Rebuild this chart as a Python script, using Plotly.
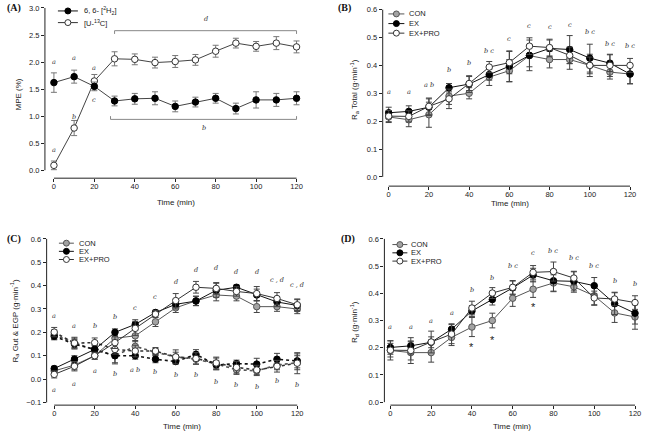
import plotly.graph_objects as go

W, H = 645, 435

# ---------------- data ----------------
time = [0, 10, 20, 30, 40, 50, 60, 70, 80, 90, 100, 110, 120]

# Panel A: MPE (%)
a_h2 = [1.62, 1.73, 1.55, 1.28, 1.32, 1.33, 1.18, 1.26, 1.33, 1.14, 1.30, 1.30, 1.33]
a_h2_se = [0.18, 0.12, 0.08, 0.09, 0.10, 0.12, 0.10, 0.09, 0.09, 0.10, 0.15, 0.12, 0.12]
a_c13 = [0.09, 0.78, 1.65, 2.06, 2.05, 1.99, 2.01, 2.04, 2.20, 2.35, 2.29, 2.35, 2.28]
a_c13_se = [0.08, 0.14, 0.12, 0.13, 0.10, 0.10, 0.11, 0.10, 0.11, 0.09, 0.09, 0.12, 0.11]
a_let_x = [0, 10, 20, 0, 10, 20, 75, 74]
a_let_y = [2.01, 2.07, 1.89, 0.37, 0.98, 1.29, 2.79, 0.78]
a_let = ["a", "a", "a", "a", "b", "c", "d", "b"]

# Panel B: Ra Total
b_con = [0.215, 0.205, 0.223, 0.290, 0.300, 0.358, 0.381, 0.435, 0.421, 0.421, 0.400, 0.376, 0.369]
b_con_se = [0.020, 0.025, 0.045, 0.030, 0.020, 0.030, 0.040, 0.040, 0.030, 0.035, 0.040, 0.025, 0.035]
b_ex = [0.230, 0.235, 0.250, 0.320, 0.333, 0.367, 0.397, 0.436, 0.461, 0.457, 0.426, 0.408, 0.369]
b_ex_se = [0.020, 0.020, 0.030, 0.015, 0.030, 0.020, 0.055, 0.055, 0.030, 0.050, 0.050, 0.030, 0.035]
b_pro = [0.218, 0.217, 0.253, 0.280, 0.335, 0.394, 0.410, 0.469, 0.464, 0.436, 0.400, 0.400, 0.400]
b_pro_se = [0.020, 0.020, 0.030, 0.035, 0.025, 0.020, 0.040, 0.030, 0.030, 0.030, 0.030, 0.040, 0.025]
b_let_y = [0.303, 0.303, 0.329, 0.385, 0.408, 0.450, 0.495, 0.543, 0.537, 0.545, 0.519, 0.477, 0.471]
b_let = ["a", "a", "a b", "b", "b", "b c", "c", "c", "c", "c", "b c", "b c", "b c"]

# Panel C: Ra Gut (solid) & EGP (dotted)
c_gut_con = [0.035, 0.060, 0.100, 0.175, 0.185, 0.245, 0.305, 0.335, 0.360, 0.355, 0.310, 0.310, 0.300]
c_gut_con_se = [0.010, 0.020, 0.015, 0.025, 0.025, 0.020, 0.020, 0.020, 0.025, 0.020, 0.025, 0.020, 0.020]
c_gut_ex = [0.045, 0.085, 0.127, 0.200, 0.234, 0.285, 0.320, 0.334, 0.380, 0.393, 0.360, 0.330, 0.315]
c_gut_ex_se = [0.010, 0.015, 0.015, 0.015, 0.020, 0.010, 0.020, 0.020, 0.030, 0.010, 0.025, 0.020, 0.025]
c_gut_pro = [0.020, 0.055, 0.100, 0.156, 0.217, 0.278, 0.336, 0.393, 0.388, 0.375, 0.366, 0.345, 0.318]
c_gut_pro_se = [0.015, 0.020, 0.015, 0.025, 0.030, 0.015, 0.030, 0.025, 0.025, 0.020, 0.030, 0.025, 0.025]
c_egp_con = [0.190, 0.155, 0.125, 0.100, 0.140, 0.115, 0.095, 0.085, 0.065, 0.040, 0.035, 0.060, 0.070]
c_egp_con_se = [0.020, 0.020, 0.020, 0.030, 0.025, 0.015, 0.020, 0.020, 0.025, 0.020, 0.020, 0.020, 0.030]
c_egp_ex = [0.183, 0.150, 0.127, 0.100, 0.100, 0.085, 0.075, 0.106, 0.060, 0.066, 0.064, 0.085, 0.078]
c_egp_ex_se = [0.015, 0.020, 0.020, 0.035, 0.015, 0.015, 0.010, 0.020, 0.020, 0.015, 0.025, 0.025, 0.030]
c_egp_pro = [0.201, 0.154, 0.156, 0.127, 0.120, 0.120, 0.095, 0.088, 0.069, 0.050, 0.039, 0.055, 0.068]
c_egp_pro_se = [0.020, 0.025, 0.020, 0.020, 0.025, 0.015, 0.030, 0.025, 0.025, 0.025, 0.020, 0.025, 0.045]
c_top_let_y = [0.272, 0.227, 0.227, 0.266, 0.303, 0.351, 0.417, 0.468, 0.475, 0.458, 0.458, 0.425, 0.404]
c_top_let = ["a", "a", "b", "b", "c", "c", "d", "d", "d", "d", "d", "c , d", "c , d"]
c_bot_let_y = [-0.046, -0.020, 0.036, 0.022, 0.038, 0.031, 0.018, 0.017, -0.012, -0.025, -0.032, -0.010, -0.025]
c_bot_let = ["a", "a", "a", "b", "a b", "b", "b", "b", "b", "b", "b", "b", "b"]

# Panel D: Rd
d_con = [0.190, 0.182, 0.182, 0.238, 0.276, 0.300, 0.382, 0.415, 0.438, 0.424, 0.391, 0.328, 0.313]
d_con_se = [0.035, 0.040, 0.035, 0.030, 0.035, 0.027, 0.030, 0.030, 0.030, 0.020, 0.035, 0.035, 0.045]
d_ex = [0.201, 0.207, 0.220, 0.268, 0.335, 0.377, 0.420, 0.467, 0.446, 0.444, 0.428, 0.362, 0.327]
d_ex_se = [0.025, 0.030, 0.020, 0.020, 0.020, 0.020, 0.025, 0.025, 0.040, 0.035, 0.030, 0.040, 0.040]
d_pro = [0.191, 0.190, 0.221, 0.250, 0.346, 0.401, 0.422, 0.477, 0.480, 0.456, 0.383, 0.379, 0.366]
d_pro_se = [0.025, 0.035, 0.040, 0.035, 0.025, 0.020, 0.025, 0.025, 0.035, 0.025, 0.025, 0.025, 0.025]
d_let_y = [0.277, 0.277, 0.298, 0.329, 0.412, 0.457, 0.501, 0.549, 0.557, 0.529, 0.502, 0.445, 0.435]
d_let = ["a", "a", "a", "a", "b", "b", "b c", "c", "b c", "b c", "b c", "b", "b"]
d_star_x = [40, 50, 70]
d_star_y = [0.204, 0.230, 0.348]

# ---------------- helpers ----------------
def fx(px):
    return px / W

def fy(py):
    return 1 - py / H

def rng(v0, p0, v1, p1, lo, hi):
    s = (p1 - p0) / (v1 - v0)
    return [v0 + (lo - p0) / s, v0 + (hi - p0) / s]

SANS = "Liberation Sans, Arial, sans-serif"
SERIF = "Liberation Serif, Times New Roman, serif"
LETTER = "DejaVu Serif, serif"

STY = {
    "CON": dict(fill="#a3a3a3", edge="#555555", line="#555555"),
    "EX": dict(fill="#000000", edge="#000000", line="#111111"),
    "EX+PRO": dict(fill="#ffffff", edge="#333333", line="#333333"),
}

# panel geometry: x pixel map, y pixel map, plot area edges
panels = [
    dict(k="", xm=(0, 54, 120, 297), L=45, R=303, ym=(0, 171, 3, 8), T=3, B=179,
         yt=[0, 0.5, 1.0, 1.5, 2.0, 2.5, 3.0], ylo=0, yhi=3),
    dict(k="2", xm=(0, 389.3, 120, 631), L=383.3, R=637, ym=(0, 177.7, 0.6, 9.7), T=3, B=187,
         yt=[0, 0.1, 0.2, 0.3, 0.4, 0.5, 0.6], ylo=0, yhi=0.6),
    dict(k="3", xm=(0, 54.3, 120, 297.7), L=46.7, R=303, ym=(-0.1, 404.3, 0.6, 240), T=234, B=407,
         yt=[-0.1, 0, 0.1, 0.2, 0.3, 0.4, 0.5, 0.6], ylo=-0.1, yhi=0.6),
    dict(k="4", xm=(0, 391, 120, 636), L=385, R=642, ym=(0, 404, 0.6, 240), T=234, B=407,
         yt=[0, 0.1, 0.2, 0.3, 0.4, 0.5, 0.6], ylo=0, yhi=0.6),
]

fig = go.Figure()
layout = dict(width=W, height=H, margin=dict(l=0, r=0, t=0, b=0),
              paper_bgcolor="white", plot_bgcolor="white", showlegend=False)
shapes = []
annotations = []

for p in panels:
    k = p["k"]
    v0, p0, v1, p1 = p["xm"]
    xr = rng(v0, p0, v1, p1, p["L"], p["R"])
    yv0, yp0, yv1, yp1 = p["ym"]
    yr = rng(yv0, yp0, yv1, yp1, p["B"], p["T"])
    layout["xaxis" + k] = dict(
        domain=[fx(p["L"]), fx(p["R"])], range=xr, anchor="y" + k,
        showgrid=False, zeroline=False, showline=False,
        tickvals=[0, 20, 40, 60, 80, 100, 120], ticks="outside", ticklen=3,
        ticklabelstandoff=-2,
        tickcolor="#222", tickfont=dict(family=SANS, size=7.5, color="#222"))
    layout["yaxis" + k] = dict(
        domain=[fy(p["B"]), fy(p["T"])], range=yr, anchor="x" + k,
        showgrid=False, zeroline=False, showline=False,
        tickvals=p["yt"], tickformat=".1f", ticks="outside", ticklen=3,
        tickcolor="#222", tickfont=dict(family=SANS, size=7.5, color="#222"))
    xa = "x" + k
    ya = "y" + k
    shapes.append(dict(type="line", xref=xa, yref=ya + " domain", x0=0, x1=120, y0=0, y1=0,
                       line=dict(color="#222", width=1)))
    shapes.append(dict(type="line", xref=xa + " domain", yref=ya, x0=0, x1=0,
                       y0=p["ylo"], y1=p["yhi"], line=dict(color="#222", width=1)))
    p["xa"], p["ya"] = xa, ya


def add_series(p, y, se, sty, dash="solid", lw=1, ebcol="#444"):
    fig.add_trace(go.Scatter(
        x=time, y=y, xaxis=p["xa"], yaxis=p["ya"], mode="lines+markers",
        line=dict(color=sty["line"], width=lw, dash=dash),
        marker=dict(size=6.5, color=sty["fill"], line=dict(color=sty["edge"], width=1)),
        error_y=dict(type="data", array=se, color=ebcol, thickness=1, width=3),
        cliponaxis=False))


def letters(p, xs, ys, txts, size=6.5):
    for xv, yv, t in zip(xs, ys, txts):
        annotations.append(dict(x=xv, y=yv, xref=p["xa"], yref=p["ya"], text=t,
                                showarrow=False,
                                font=dict(family=LETTER, size=size, color="#333333", style="italic")))


# Panel A
pA, pB, pC, pD = panels
add_series(pA, a_c13, a_c13_se, dict(fill="#ffffff", edge="#333", line="#444"), ebcol="#777")
add_series(pA, a_h2, a_h2_se, dict(fill="#000000", edge="#000", line="#444"), ebcol="#777")
letters(pA, a_let_x, a_let_y, a_let)
# significance brackets
for (bx0, bx1, by, tick) in [(30, 120, 2.58, -0.06), (28, 120, 0.94, 0.06)]:
    shapes.append(dict(type="path", xref="x", yref="y",
                       path="M %g,%g L %g,%g L %g,%g L %g,%g" % (bx0, by + tick, bx0, by, bx1, by, bx1, by + tick),
                       line=dict(color="#888", width=1)))

# Panel B
add_series(pB, b_con, b_con_se, STY["CON"])
add_series(pB, b_ex, b_ex_se, STY["EX"])
add_series(pB, b_pro, b_pro_se, STY["EX+PRO"])
letters(pB, time, b_let_y, b_let)

# Panel C
add_series(pC, c_egp_con, c_egp_con_se, STY["CON"], dash="dot", lw=1.6)
add_series(pC, c_egp_ex, c_egp_ex_se, STY["EX"], dash="dot", lw=1.6)
add_series(pC, c_egp_pro, c_egp_pro_se, STY["EX+PRO"], dash="dot", lw=1.6)
add_series(pC, c_gut_con, c_gut_con_se, STY["CON"])
add_series(pC, c_gut_ex, c_gut_ex_se, STY["EX"])
add_series(pC, c_gut_pro, c_gut_pro_se, STY["EX+PRO"])
letters(pC, time, c_top_let_y, c_top_let)
letters(pC, time, c_bot_let_y, c_bot_let)

# Panel D
add_series(pD, d_con, d_con_se, STY["CON"])
add_series(pD, d_ex, d_ex_se, STY["EX"])
add_series(pD, d_pro, d_pro_se, STY["EX+PRO"])
letters(pD, time, d_let_y, d_let)
for xv, yv in zip(d_star_x, d_star_y):
    annotations.append(dict(x=xv, y=yv, xref="x4", yref="y4", text="*", showarrow=False,
                            font=dict(family=SANS, size=11, color="#222222")))


# manual legends (pixel positions)
def legend(x0, x1, tx, rows, entries):
    for row, (name, sty) in zip(rows, entries):
        shapes.append(dict(type="line", xref="paper", yref="paper", x0=fx(x0), x1=fx(x1),
                           y0=fy(row), y1=fy(row), line=dict(color=sty["line"], width=1)))
        cx = (x0 + x1) / 2
        r = 3
        shapes.append(dict(type="circle", xref="paper", yref="paper",
                           x0=fx(cx - r), x1=fx(cx + r), y0=fy(row + r), y1=fy(row - r),
                           fillcolor=sty["fill"], line=dict(color=sty["edge"], width=1)))
        annotations.append(dict(x=fx(tx), y=fy(row), xref="paper", yref="paper", text=name,
                                showarrow=False, xanchor="left", yanchor="middle",
                                font=dict(family=SANS, size=7.5, color="#222222")))


grp = [("CON", STY["CON"]), ("EX", STY["EX"]), ("EX+PRO", STY["EX+PRO"])]
legend(58, 78, 82, [11, 22.7], [("6, 6- [<sup>2</sup>H<sub>2</sub>]", STY["EX"]),
                                ("[U-<sup>13</sup>C]", STY["EX+PRO"])])
legend(389, 405, 408, [14, 23.7, 33.3], grp)
legend(59, 74, 77, [244.3, 252.5, 260.7], grp)
legend(393, 408, 410, [245.7, 254, 262.3], grp)

# axis titles & panel labels
titles = [
    (19, 95, "MPE (%)", -90), (355, 90, "R<sub>a</sub> Total (g·min<sup>-1</sup>)", -90),
    (15, 322, "R<sub>a</sub> Gut &amp; EGP (g·min<sup>-1</sup>)", -90),
    (355, 323, "R<sub>d</sub> (g·min<sup>-1</sup>)", -90),
    (176, 203, "Time (min)", 0), (511, 204, "Time (min)", 0),
    (182, 428, "Time (min)", 0), (513, 428, "Time (min)", 0),
]
for tx, ty, t, ang in titles:
    annotations.append(dict(x=fx(tx), y=fy(ty), xref="paper", yref="paper", text=t, textangle=ang,
                            showarrow=False, xanchor="center", yanchor="middle",
                            font=dict(family=SANS, size=8, color="#222222")))
for tx, ty, t in [(14, 8, "(A)"), (345, 8, "(B)"), (14, 240, "(C)"), (349, 240, "(D)")]:
    annotations.append(dict(x=fx(tx), y=fy(ty), xref="paper", yref="paper", text="<b>%s</b>" % t,
                            showarrow=False, xanchor="center", yanchor="middle",
                            font=dict(family=SERIF, size=10, color="#111111")))

layout["shapes"] = shapes
layout["annotations"] = annotations
fig.update_layout(**layout)
fig.write_html("out.html", config={"displayModeBar": False},
               post_script="document.body.style.margin='0';document.body.style.overflow='hidden';")
